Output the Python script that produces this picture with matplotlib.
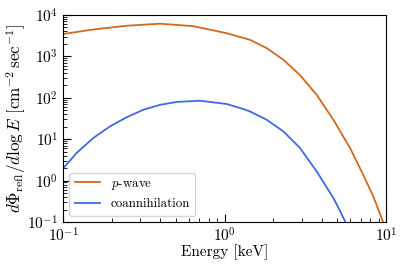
import matplotlib
matplotlib.use("Agg")
import matplotlib.pyplot as plt
import numpy as np

plt.rcParams['font.family'] = 'serif'
plt.rcParams['font.serif'] = ['cmr10']
plt.rcParams['mathtext.fontset'] = 'cm'
plt.rcParams['axes.formatter.use_mathtext'] = True
plt.rcParams['axes.unicode_minus'] = False

# values (log10 of energy in keV, log10 of flux)
pwave_logE = [-1.0, -0.812, -0.606, -0.399, -0.193, 0.014, 0.158, 0.220, 0.261,
              0.364, 0.467, 0.571, 0.674, 0.777, 0.859, 0.921, 0.980]
pwave_logF = [3.54, 3.65, 3.74, 3.79, 3.73, 3.56, 3.40, 3.28, 3.20,
              2.92, 2.55, 2.07, 1.47, 0.79, 0.14, -0.38, -0.98]

coann_logE = [-1.0, -0.915, -0.812, -0.709, -0.606, -0.503, -0.399, -0.296, -0.152,
              0.014, 0.116, 0.158, 0.261, 0.364, 0.467, 0.571, 0.674, 0.711, 0.746]
coann_logF = [0.29, 0.67, 1.03, 1.31, 1.53, 1.71, 1.83, 1.90, 1.93,
              1.85, 1.73, 1.67, 1.47, 1.19, 0.79, 0.22, -0.42, -0.70, -0.98]

pwave_E = 10 ** np.array(pwave_logE)
pwave_F = 10 ** np.array(pwave_logF)
coann_E = 10 ** np.array(coann_logE)
coann_F = 10 ** np.array(coann_logF)

fig = plt.figure(figsize=(4.07, 2.71), dpi=100)
ax = fig.add_axes([63 / 407, 1 - 222 / 271, 323 / 407, 207 / 271])

ax.plot(pwave_E, pwave_F, color='chocolate', lw=1.3, label=r'$p$-wave',
        solid_joinstyle='round')
ax.plot(coann_E, coann_F, color='royalblue', lw=1.3, label='coannihilation',
        solid_joinstyle='round')

ax.set_xscale('log')
ax.set_yscale('log')
ax.set_xlim(0.1, 10)
ax.set_ylim(0.1, 1e4)
ax.set_xlabel('Energy [keV]', fontsize=11)
ax.set_ylabel(r'$d\Phi_{\rm refl}/d\log E\ [{\rm cm}^{-2}\,{\rm sec}^{-1}]$', fontsize=12.3)
ax.yaxis.set_label_coords(-0.108, 0.5)
ax.xaxis.set_label_coords(0.5, -0.108)
ax.tick_params(which='both', direction='in', labelsize=11)
ax.tick_params(which='major', length=6)
ax.tick_params(which='minor', length=3)
ax.legend(loc='lower left', fontsize=9.3)

fig.savefig('out.png', dpi=100)
